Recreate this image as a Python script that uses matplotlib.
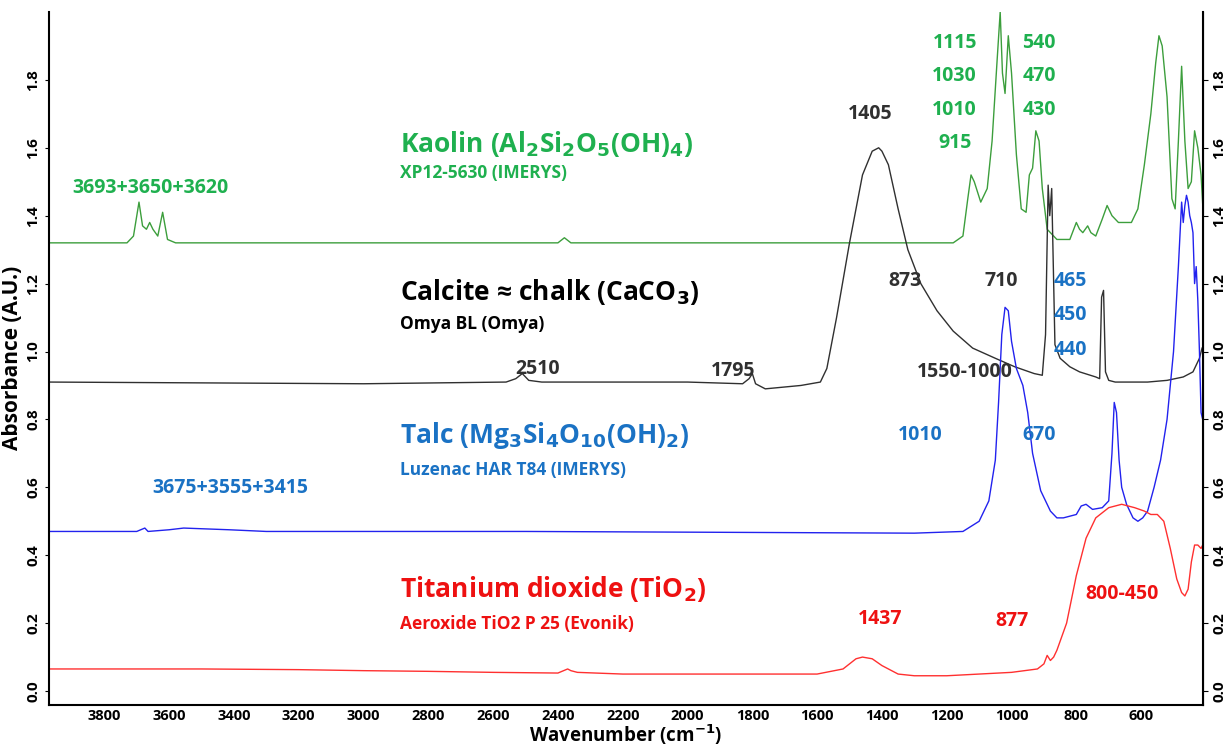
import matplotlib
matplotlib.use("Agg")
import matplotlib.pyplot as plt

plt.rcParams['font.family'] = ['Open Sans', 'DejaVu Sans']

kaolin_wn = [3970, 3730, 3710, 3693, 3682, 3670, 3660, 3650, 3635, 3620, 3605, 3580, 2400, 2380, 2360, 1180, 1150, 1135, 1125, 1115, 1095, 1075, 1060, 1045, 1035, 1028, 1020, 1010, 1000, 985, 970, 955, 945, 935, 925, 915, 905, 890, 860, 820, 800, 790, 780, 765, 755, 740, 720, 705, 690, 670, 650, 630, 610, 590, 570, 555, 545, 535, 520, 505, 495, 485, 475, 465, 455, 445, 435, 425, 415, 408]
kaolin_ab = [1.32, 1.32, 1.34, 1.44, 1.37, 1.36, 1.38, 1.36, 1.34, 1.41, 1.33, 1.32, 1.32, 1.335, 1.32, 1.32, 1.34, 1.45, 1.52, 1.50, 1.44, 1.48, 1.62, 1.85, 2.00, 1.82, 1.76, 1.93, 1.82, 1.58, 1.42, 1.41, 1.52, 1.54, 1.65, 1.62, 1.48, 1.36, 1.33, 1.33, 1.38, 1.36, 1.35, 1.37, 1.35, 1.34, 1.39, 1.43, 1.40, 1.38, 1.38, 1.38, 1.42, 1.55, 1.70, 1.85, 1.93, 1.90, 1.75, 1.45, 1.42, 1.62, 1.84, 1.62, 1.48, 1.50, 1.65, 1.60, 1.52, 1.40]

calcite_wn = [3970, 3000, 2560, 2530, 2510, 2490, 2450, 2000, 1830, 1810, 1800, 1790, 1760, 1650, 1590, 1570, 1540, 1500, 1460, 1430, 1410, 1400, 1380, 1350, 1320, 1280, 1230, 1180, 1120, 1050, 990, 930, 905, 895, 887, 882, 876, 866, 850, 820, 790, 740, 728, 722, 716, 710, 700, 680, 640, 580, 520, 470, 440, 420, 412]
calcite_ab = [0.91, 0.905, 0.91, 0.92, 0.935, 0.915, 0.91, 0.91, 0.905, 0.92, 0.935, 0.905, 0.89, 0.90, 0.91, 0.95, 1.10, 1.32, 1.52, 1.59, 1.60, 1.59, 1.55, 1.42, 1.30, 1.20, 1.12, 1.06, 1.01, 0.98, 0.955, 0.935, 0.93, 1.05, 1.49, 1.40, 1.48, 1.02, 0.98, 0.955, 0.94, 0.925, 0.92, 1.16, 1.18, 0.94, 0.915, 0.91, 0.91, 0.91, 0.915, 0.925, 0.94, 0.98, 1.01]

talc_wn = [3970, 3700, 3675, 3665, 3600, 3555, 3500, 3415, 3300, 2500, 1300, 1150, 1100, 1070, 1050, 1040, 1030, 1020, 1010, 1000, 985, 965, 950, 935, 910, 880, 860, 840, 820, 800, 785, 770, 750, 720, 700, 690, 683, 676, 668, 660, 645, 625, 610, 595, 580, 560, 540, 520, 500, 485, 475, 470, 465, 460, 455, 450, 445, 440, 435, 430, 425, 420, 415, 410]
talc_ab = [0.47, 0.47, 0.48, 0.47, 0.475, 0.48, 0.478, 0.475, 0.47, 0.47, 0.465, 0.47, 0.50, 0.56, 0.68, 0.85, 1.05, 1.13, 1.12, 1.03, 0.95, 0.90, 0.82, 0.70, 0.59, 0.53, 0.51, 0.51, 0.515, 0.52, 0.545, 0.55, 0.535, 0.54, 0.56, 0.70, 0.85, 0.82, 0.68, 0.60, 0.55, 0.51, 0.50, 0.51, 0.53, 0.60, 0.68, 0.80, 1.00, 1.25, 1.44, 1.38, 1.43, 1.46, 1.44, 1.40, 1.38, 1.35, 1.20, 1.25, 1.15, 1.00, 0.82, 0.80]

tio2_wn = [3970, 3500, 3200, 3000, 2800, 2600, 2400, 2370, 2360, 2340, 2200, 1600, 1520, 1480, 1460, 1430, 1400, 1350, 1300, 1200, 1000, 920, 900, 890, 880, 870, 860, 830, 800, 770, 740, 700, 660, 620, 590, 570, 550, 530, 510, 490, 475, 465, 455, 445, 435, 425, 415, 410]
tio2_ab = [0.065, 0.065, 0.063, 0.06, 0.058, 0.055, 0.053, 0.065, 0.06, 0.055, 0.05, 0.05, 0.065, 0.095, 0.10, 0.095, 0.075, 0.05, 0.045, 0.045, 0.055, 0.065, 0.08, 0.105, 0.09, 0.10, 0.12, 0.20, 0.34, 0.45, 0.51, 0.54, 0.55, 0.54, 0.53, 0.52, 0.52, 0.50, 0.42, 0.33, 0.29, 0.28, 0.30, 0.38, 0.43, 0.43, 0.42, 0.43]

x_ticks = [3800, 3600, 3400, 3200, 3000, 2800, 2600, 2400, 2200, 2000, 1800, 1600, 1400, 1200, 1000, 800, 600]
y_ticks = [0.0, 0.2, 0.4, 0.6, 0.8, 1.0, 1.2, 1.4, 1.6, 1.8]

GREEN_L, GREEN_T = '#3c9e3c', '#1fb04f'
BLACK = '#303030'
BLUE_L, BLUE_T = '#2222ee', '#1a72c4'
RED_L, RED_T = '#ff3030', '#ee1111'

fig = plt.figure(figsize=(12.31, 7.48), dpi=100)
ax = fig.add_axes([0.04, 0.058, 0.937, 0.926])
ax.plot(kaolin_wn, kaolin_ab, color=GREEN_L, lw=1)
ax.plot(calcite_wn, calcite_ab, color=BLACK, lw=1)
ax.plot(talc_wn, talc_ab, color=BLUE_L, lw=1)
ax.plot(tio2_wn, tio2_ab, color=RED_L, lw=1)
ax.set_xlim(3970, 410)
ax.set_ylim(-0.04, 2.0)
ax.set_xticks(x_ticks)
ax.set_xticklabels([str(t) for t in x_ticks], fontsize=10.5, fontweight='bold')
ax.tick_params(axis='x', length=0, pad=3)
ax.set_yticks(y_ticks)
ax.set_yticklabels([f"{t:.1f}" for t in y_ticks], fontsize=11, fontweight='bold', rotation=90, va='center')
ax.tick_params(axis='y', direction='out', length=3)
ax2 = ax.secondary_yaxis('right')
ax2.set_yticks(y_ticks)
ax2.set_yticklabels([f"{t:.1f}" for t in y_ticks], fontsize=11, fontweight='bold', rotation=90, va='center')
ax.spines['top'].set_visible(False)
for s in ['left', 'bottom', 'right']:
    ax.spines[s].set_linewidth(1.5)
ax.set_xlabel('Wavenumber (cm$^{\\mathbf{-1}}$)', fontsize=13.5, fontweight='bold', labelpad=0)
ax.set_ylabel('Absorbance (A.U.)', fontsize=15, fontweight='bold', labelpad=2)

T = ax.transAxes
def txt(x, y, s, c, size, ha='left'):
    ax.text(x, y, s, color=c, fontsize=size, fontweight='bold', ha=ha, va='center', transform=T)

txt(0.304, 0.81, 'Kaolin (Al$_\\mathbf{2}$Si$_\\mathbf{2}$O$_\\mathbf{5}$(OH)$_\\mathbf{4}$)', GREEN_T, 19)
txt(0.304, 0.767, 'XP12-5630 (IMERYS)', GREEN_T, 12.5)
txt(0.02, 0.746, '3693+3650+3620', GREEN_T, 14)
for i, s in enumerate(['1115', '1030', '1010', '915']):
    txt(0.785, 0.955 - i * 0.048, s, GREEN_T, 14, ha='center')
for i, s in enumerate(['540', '470', '430']):
    txt(0.858, 0.955 - i * 0.048, s, GREEN_T, 14, ha='center')
txt(0.712, 0.853, '1405', BLACK, 14, ha='center')
txt(0.304, 0.596, 'Calcite ≈ chalk (CaCO$_\\mathbf{3}$)', 'black', 19)
txt(0.304, 0.549, 'Omya BL (Omya)', 'black', 12.5)
txt(0.423, 0.484, '2510', BLACK, 14, ha='center')
txt(0.593, 0.481, '1795', BLACK, 14, ha='center')
txt(0.794, 0.48, '1550-1000', BLACK, 14, ha='center')
txt(0.742, 0.612, '873', BLACK, 14, ha='center')
txt(0.825, 0.612, '710', BLACK, 14, ha='center')
for i, s in enumerate(['465', '450', '440']):
    txt(0.885, 0.612 - i * 0.05, s, BLUE_T, 14, ha='center')
txt(0.304, 0.389, 'Talc (Mg$_\\mathbf{3}$Si$_\\mathbf{4}$O$_\\mathbf{10}$(OH)$_\\mathbf{2}$)', BLUE_T, 19)
txt(0.304, 0.339, 'Luzenac HAR T84 (IMERYS)', BLUE_T, 12.5)
txt(0.157, 0.313, '3675+3555+3415', BLUE_T, 14, ha='center')
txt(0.755, 0.389, '1010', BLUE_T, 14, ha='center')
txt(0.858, 0.389, '670', BLUE_T, 14, ha='center')
txt(0.304, 0.167, 'Titanium dioxide (TiO$_\\mathbf{2}$)', RED_T, 19)
txt(0.304, 0.117, 'Aeroxide TiO2 P 25 (Evonik)', RED_T, 12.5)
txt(0.720, 0.124, '1437', RED_T, 14, ha='center')
txt(0.835, 0.121, '877', RED_T, 14, ha='center')
txt(0.930, 0.16, '800-450', RED_T, 14, ha='center')

fig.savefig('out.png', dpi=100)
